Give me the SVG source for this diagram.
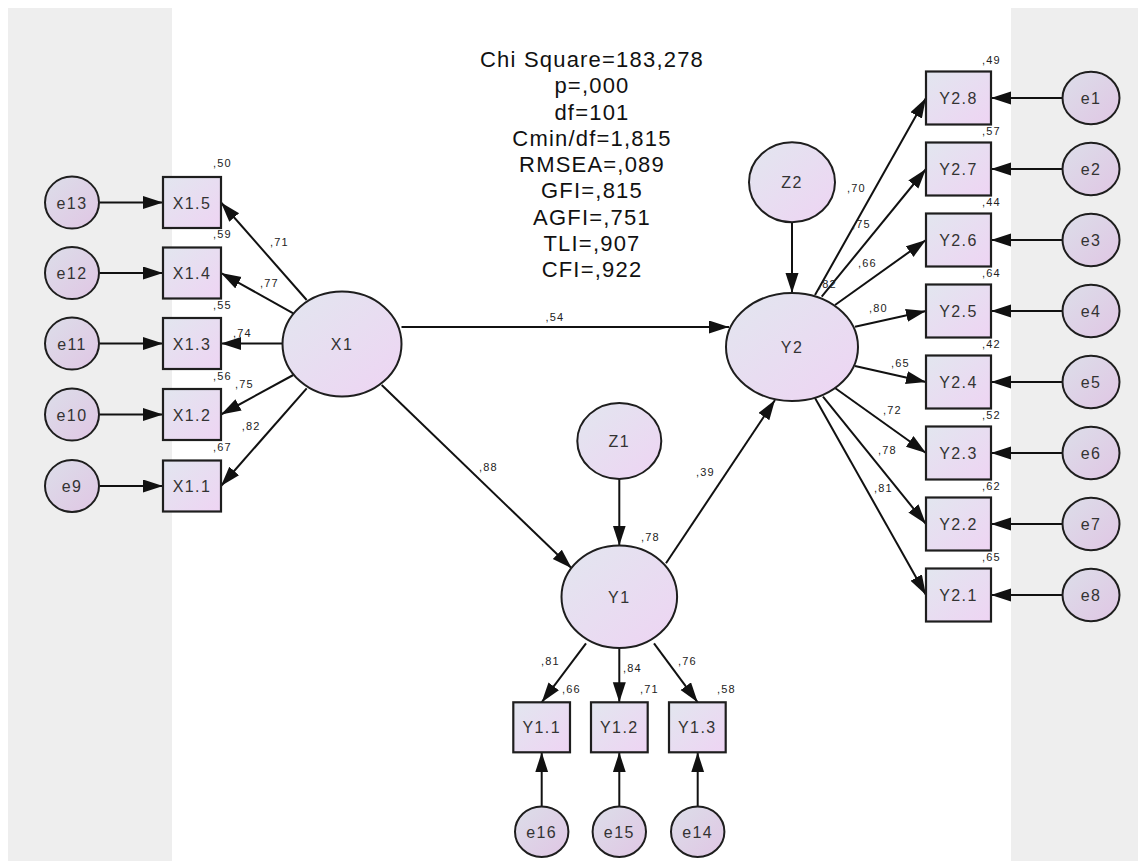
<svg xmlns="http://www.w3.org/2000/svg" width="1138" height="861" viewBox="0 0 1138 861">
<defs>
<linearGradient id="gN" x1="0" y1="0" x2="1" y2="1">
<stop offset="0" stop-color="#e2e6ef"/>
<stop offset="1" stop-color="#eed4f3"/>
</linearGradient>
<linearGradient id="gE" x1="0" y1="0" x2="1" y2="1">
<stop offset="0" stop-color="#dcdee9"/>
<stop offset="1" stop-color="#e0c6e4"/>
</linearGradient>
<marker id="ah" markerUnits="userSpaceOnUse" markerWidth="22" markerHeight="14" refX="20" refY="6.5" orient="auto">
<path d="M0,0 L20,6.5 L0,13 z" fill="#111"/>
</marker>
<style>
.bg{fill:#eeeeee}
.lat{fill:url(#gN);stroke:#1e1e1e;stroke-width:2}
.err{fill:url(#gE);stroke:#1e1e1e;stroke-width:2}
.obs{fill:url(#gN);stroke:#1e1e1e;stroke-width:2.2}
.c line{stroke:#111;stroke-width:2;marker-end:url(#ah)}
.t{font-family:"Liberation Sans",Arial,sans-serif;font-size:16px;fill:#333;text-anchor:middle;letter-spacing:1.4px}
.s{font-family:"Liberation Sans",Arial,sans-serif;font-size:11px;fill:#222;letter-spacing:1.2px}
.st{font-family:"Liberation Sans",Arial,sans-serif;font-size:22px;fill:#111;text-anchor:middle;letter-spacing:1.2px}
</style>
</defs>
<rect class="bg" x="8" y="8" width="164" height="853"/>
<rect class="bg" x="1011" y="8" width="127" height="853"/>

<g id="stats">
<text class="st" x="592" y="67">Chi Square=183,278</text>
<text class="st" x="592" y="93.25">p=,000</text>
<text class="st" x="592" y="119.5">df=101</text>
<text class="st" x="592" y="145.75">Cmin/df=1,815</text>
<text class="st" x="592" y="172">RMSEA=,089</text>
<text class="st" x="592" y="198.25">GFI=,815</text>
<text class="st" x="592" y="224.5">AGFI=,751</text>
<text class="st" x="592" y="250.75">TLI=,907</text>
<text class="st" x="592" y="277">CFI=,922</text>
</g>

<g id="connectors" class="c">
<line x1="99.5" y1="202.5" x2="163" y2="202.5"/>
<line x1="99.5" y1="273" x2="163" y2="273"/>
<line x1="99.5" y1="343.5" x2="163" y2="343.5"/>
<line x1="99.5" y1="414.5" x2="163" y2="414.5"/>
<line x1="99.5" y1="486" x2="163" y2="486"/>
<line x1="306.7" y1="300" x2="221" y2="202.5"/>
<line x1="293.3" y1="313.3" x2="221" y2="273"/>
<line x1="282.7" y1="343.5" x2="221" y2="343.5"/>
<line x1="293.3" y1="375" x2="221" y2="414.5"/>
<line x1="306.7" y1="388.3" x2="221" y2="486"/>
<line x1="401.5" y1="327" x2="729" y2="327"/>
<line x1="381.7" y1="385" x2="571.7" y2="568.3"/>
<line x1="619.3" y1="479" x2="619.3" y2="545.5"/>
<line x1="666" y1="563.3" x2="775" y2="400"/>
<line x1="586" y1="643.3" x2="541.7" y2="702.3"/>
<line x1="619.3" y1="648" x2="619.3" y2="702.3"/>
<line x1="654" y1="643.3" x2="697.7" y2="702.3"/>
<line x1="541.7" y1="806.4" x2="541.7" y2="752.3"/>
<line x1="619.3" y1="806.4" x2="619.3" y2="752.3"/>
<line x1="697.7" y1="806.4" x2="697.7" y2="752.3"/>
<line x1="792" y1="222" x2="792" y2="293"/>
<line x1="815" y1="295" x2="926" y2="98"/>
<line x1="821.7" y1="296.7" x2="926" y2="169"/>
<line x1="835" y1="305" x2="926" y2="240"/>
<line x1="855" y1="326.7" x2="926" y2="311"/>
<line x1="855" y1="366" x2="926" y2="382"/>
<line x1="835" y1="388" x2="926" y2="453"/>
<line x1="823" y1="396.7" x2="926" y2="524"/>
<line x1="815" y1="398" x2="926" y2="595"/>
<line x1="1062.5" y1="98" x2="991" y2="98"/>
<line x1="1062.5" y1="169" x2="991" y2="169"/>
<line x1="1062.5" y1="240" x2="991" y2="240"/>
<line x1="1062.5" y1="311" x2="991" y2="311"/>
<line x1="1062.5" y1="382" x2="991" y2="382"/>
<line x1="1062.5" y1="453" x2="991" y2="453"/>
<line x1="1062.5" y1="524" x2="991" y2="524"/>
<line x1="1062.5" y1="595" x2="991" y2="595"/>
</g>

<g id="path-labels">
<text class="s" x="270" y="245.7">,71</text>
<text class="s" x="260" y="286.7">,77</text>
<text class="s" x="233" y="336.7">,74</text>
<text class="s" x="235" y="388.3">,75</text>
<text class="s" x="241.7" y="430">,82</text>
<text class="s" x="545.5" y="321">,54</text>
<text class="s" x="479" y="471">,88</text>
<text class="s" x="696" y="476">,39</text>
<text class="s" x="541" y="665">,81</text>
<text class="s" x="623" y="672">,84</text>
<text class="s" x="678" y="665">,76</text>
<text class="s" x="847" y="192">,70</text>
<text class="s" x="852" y="228">,75</text>
<text class="s" x="858" y="267">,66</text>
<text class="s" x="818" y="288.3">,82</text>
<text class="s" x="869" y="312">,80</text>
<text class="s" x="891" y="367">,65</text>
<text class="s" x="883" y="414">,72</text>
<text class="s" x="878" y="454">,78</text>
<text class="s" x="874" y="492">,81</text>
</g>

<g id="e13"><ellipse class="err" cx="72" cy="202.5" rx="27" ry="26"/><text class="t" x="72" y="208.5">e13</text></g>
<g id="e12"><ellipse class="err" cx="72" cy="273" rx="27" ry="26"/><text class="t" x="72" y="279">e12</text></g>
<g id="e11"><ellipse class="err" cx="72" cy="343.5" rx="27" ry="26"/><text class="t" x="72" y="349.5">e11</text></g>
<g id="e10"><ellipse class="err" cx="72" cy="414.5" rx="27" ry="26"/><text class="t" x="72" y="420.5">e10</text></g>
<g id="e9"><ellipse class="err" cx="72" cy="486" rx="27" ry="26"/><text class="t" x="72" y="492">e9</text></g>

<g id="X1.5"><rect class="obs" x="163" y="177" width="58" height="51"/><text class="t" x="192" y="208.5">X1.5</text><text class="s" x="213" y="167">,50</text></g>
<g id="X1.4"><rect class="obs" x="163" y="247.5" width="58" height="51"/><text class="t" x="192" y="279">X1.4</text><text class="s" x="213" y="238">,59</text></g>
<g id="X1.3"><rect class="obs" x="163" y="318" width="58" height="51"/><text class="t" x="192" y="349.5">X1.3</text><text class="s" x="213" y="309">,55</text></g>
<g id="X1.2"><rect class="obs" x="163" y="389" width="58" height="51"/><text class="t" x="192" y="420.5">X1.2</text><text class="s" x="213" y="380">,56</text></g>
<g id="X1.1"><rect class="obs" x="163" y="460.5" width="58" height="51"/><text class="t" x="192" y="492">X1.1</text><text class="s" x="213" y="451">,67</text></g>

<g id="X1"><ellipse class="lat" cx="342" cy="344" rx="59.5" ry="52.5"/><text class="t" x="342" y="350">X1</text></g>

<g id="Z1"><ellipse class="lat" cx="619.3" cy="441" rx="42" ry="38"/><text class="t" x="619.3" y="447">Z1</text></g>
<g id="Y1"><ellipse class="lat" cx="619.3" cy="596.7" rx="57.8" ry="51.3"/><text class="t" x="619.3" y="602.7">Y1</text><text class="s" x="641" y="541">,78</text></g>

<g id="Y1.1"><rect class="obs" x="513.3" y="702.3" width="56.7" height="50"/><text class="t" x="541.7" y="733.3">Y1.1</text><text class="s" x="562" y="693">,66</text></g>
<g id="Y1.2"><rect class="obs" x="591" y="702.3" width="56.7" height="50"/><text class="t" x="619.3" y="733.3">Y1.2</text><text class="s" x="640" y="693">,71</text></g>
<g id="Y1.3"><rect class="obs" x="669" y="702.3" width="56.7" height="50"/><text class="t" x="697.3" y="733.3">Y1.3</text><text class="s" x="717" y="693">,58</text></g>

<g id="e16"><ellipse class="err" cx="541.7" cy="831.7" rx="26.7" ry="25.3"/><text class="t" x="541.7" y="837.7">e16</text></g>
<g id="e15"><ellipse class="err" cx="619.3" cy="831.7" rx="26.7" ry="25.3"/><text class="t" x="619.3" y="837.7">e15</text></g>
<g id="e14"><ellipse class="err" cx="697.7" cy="831.7" rx="26.7" ry="25.3"/><text class="t" x="697.7" y="837.7">e14</text></g>

<g id="Z2"><ellipse class="lat" cx="792" cy="182.3" rx="43" ry="40"/><text class="t" x="792" y="188.3">Z2</text></g>
<g id="Y2"><ellipse class="lat" cx="792" cy="347" rx="66" ry="54"/><text class="t" x="792" y="353">Y2</text></g>

<g id="Y2.8"><rect class="obs" x="926" y="71.5" width="65" height="53"/><text class="t" x="958.5" y="104">Y2.8</text><text class="s" x="982" y="64">,49</text></g>
<g id="Y2.7"><rect class="obs" x="926" y="142.5" width="65" height="53"/><text class="t" x="958.5" y="175">Y2.7</text><text class="s" x="982" y="135">,57</text></g>
<g id="Y2.6"><rect class="obs" x="926" y="213.5" width="65" height="53"/><text class="t" x="958.5" y="246">Y2.6</text><text class="s" x="982" y="206">,44</text></g>
<g id="Y2.5"><rect class="obs" x="926" y="284.5" width="65" height="53"/><text class="t" x="958.5" y="317">Y2.5</text><text class="s" x="982" y="277">,64</text></g>
<g id="Y2.4"><rect class="obs" x="926" y="355.5" width="65" height="53"/><text class="t" x="958.5" y="388">Y2.4</text><text class="s" x="982" y="348">,42</text></g>
<g id="Y2.3"><rect class="obs" x="926" y="426.5" width="65" height="53"/><text class="t" x="958.5" y="459">Y2.3</text><text class="s" x="982" y="419">,52</text></g>
<g id="Y2.2"><rect class="obs" x="926" y="497.5" width="65" height="53"/><text class="t" x="958.5" y="530">Y2.2</text><text class="s" x="982" y="490">,62</text></g>
<g id="Y2.1"><rect class="obs" x="926" y="568.5" width="65" height="53"/><text class="t" x="958.5" y="601">Y2.1</text><text class="s" x="982" y="561">,65</text></g>

<g id="e1"><ellipse class="err" cx="1091" cy="98" rx="28.5" ry="26.3"/><text class="t" x="1091" y="104">e1</text></g>
<g id="e2"><ellipse class="err" cx="1091" cy="169" rx="28.5" ry="26.3"/><text class="t" x="1091" y="175">e2</text></g>
<g id="e3"><ellipse class="err" cx="1091" cy="240" rx="28.5" ry="26.3"/><text class="t" x="1091" y="246">e3</text></g>
<g id="e4"><ellipse class="err" cx="1091" cy="311" rx="28.5" ry="26.3"/><text class="t" x="1091" y="317">e4</text></g>
<g id="e5"><ellipse class="err" cx="1091" cy="382" rx="28.5" ry="26.3"/><text class="t" x="1091" y="388">e5</text></g>
<g id="e6"><ellipse class="err" cx="1091" cy="453" rx="28.5" ry="26.3"/><text class="t" x="1091" y="459">e6</text></g>
<g id="e7"><ellipse class="err" cx="1091" cy="524" rx="28.5" ry="26.3"/><text class="t" x="1091" y="530">e7</text></g>
<g id="e8"><ellipse class="err" cx="1091" cy="595" rx="28.5" ry="26.3"/><text class="t" x="1091" y="601">e8</text></g>
</svg>
